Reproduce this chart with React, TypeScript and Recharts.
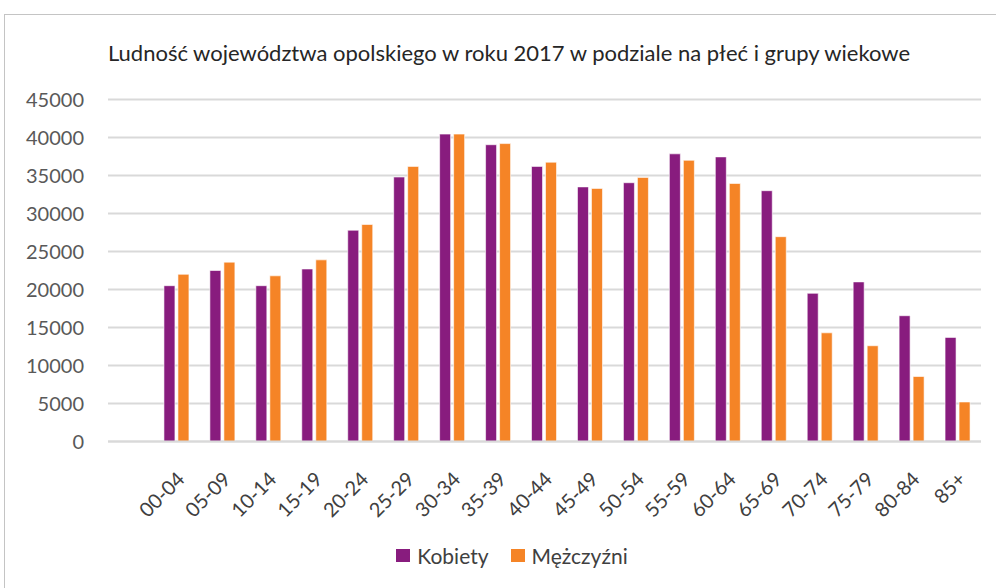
import { BarChart, Bar, XAxis, YAxis, CartesianGrid, Legend } from "recharts";

// age groups (first slot is empty in the source sheet)
const ageGroups = [
  "", "00-04", "05-09", "10-14", "15-19", "20-24", "25-29", "30-34", "35-39", "40-44",
  "45-49", "50-54", "55-59", "60-64", "65-69", "70-74", "75-79", "80-84", "85+",
];

const kobiety = [
  null, 20500, 22500, 20500, 22700, 27800, 34800, 40450, 39050, 36200,
  33500, 34050, 37850, 37450, 33000, 19500, 21000, 16550, 13700,
];

const mezczyzni = [
  null, 22000, 23600, 21800, 23900, 28550, 36200, 40450, 39200, 36750,
  33300, 34750, 37000, 33950, 26950, 14300, 12600, 8550, 5200,
];

const yTicks = [0, 5000, 10000, 15000, 20000, 25000, 30000, 35000, 40000, 45000];

const data = ageGroups.map((g, i) => ({
  group: g,
  Kobiety: kobiety[i],
  "Mężczyźni": mezczyzni[i],
}));

const PURPLE = "#881C7E";
const ORANGE = "#F58426";
const FONT = "Lato, 'Open Sans', sans-serif";

function AgeTick(props: any) {
  const { x, y, payload } = props;
  if (!payload.value) return null;
  return (
    <g transform={`translate(${x + 9},${y + 31})`}>
      <text
        x={0}
        y={0}
        textAnchor="end"
        transform="rotate(-45)"
        fill="#404040"
        fontSize={20}
        fontFamily={FONT}
      >
        {payload.value}
      </text>
    </g>
  );
}

function LegendContent() {
  const items = [
    { name: "Kobiety", color: PURPLE },
    { name: "Mężczyźni", color: ORANGE },
  ];
  return (
    <div style={{ display: "flex", justifyContent: "center", fontFamily: FONT, fontSize: 21, color: "#404040" }}>
      {items.map((it) => (
        <div key={it.name} style={{ display: "flex", alignItems: "center", margin: "0 11px" }}>
          <span style={{ width: 14, height: 13, background: it.color, display: "inline-block", marginRight: 7 }} />
          <span>{it.name}</span>
        </div>
      ))}
    </div>
  );
}

export default function App() {
  return (
    <div style={{ position: "absolute", left: 0, top: 0, width: 996, height: 588, overflow: "hidden", background: "#fff" }}>
      <div
        style={{
          position: "absolute",
          left: 4,
          top: 14,
          width: 1010,
          height: 600,
          border: "1.5px solid #c4c4c4",
        }}
      />
      <div
        style={{
          position: "absolute",
          left: 0,
          top: 39,
          width: 1018,
          textAlign: "center",
          fontFamily: FONT,
          fontSize: 22,
          color: "#262626",
        }}
      >
        Ludność województwa opolskiego w roku 2017 w podziale na płeć i grupy wiekowe
      </div>
      <div style={{ position: "absolute", left: 0, top: 0 }}>
        <BarChart
          width={996}
          height={588}
          data={data}
          margin={{ top: 99.5, right: 15, bottom: 0, left: 24 }}
          barGap={3}
          barCategoryGap="25%"
        >
          <CartesianGrid vertical={false} stroke="#d9d9d9" strokeWidth={2} />
          <XAxis
            dataKey="group"
            interval={0}
            height={146.5}
            tickLine={false}
            axisLine={{ stroke: "#d9d9d9", strokeWidth: 2 }}
            tick={<AgeTick />}
          />
          <YAxis
            width={84}
            domain={[0, 45000]}
            ticks={yTicks}
            axisLine={false}
            tickLine={false}
            tickSize={0}
            tickMargin={24}
            tick={{ fill: "#595959", fontSize: 20, fontFamily: FONT }}
          />
          <Legend
            layout="horizontal"
            verticalAlign="middle"
            align="center"
            wrapperStyle={{ top: 543, left: 14, width: 996 }}
            content={<LegendContent />}
          />
          <Bar dataKey="Kobiety" fill={PURPLE} stroke="#fff" strokeWidth={0.6} barSize={11} isAnimationActive={false} />
          <Bar dataKey="Mężczyźni" fill={ORANGE} stroke="#fff" strokeWidth={0.6} barSize={11} isAnimationActive={false} />
        </BarChart>
      </div>
    </div>
  );
}
